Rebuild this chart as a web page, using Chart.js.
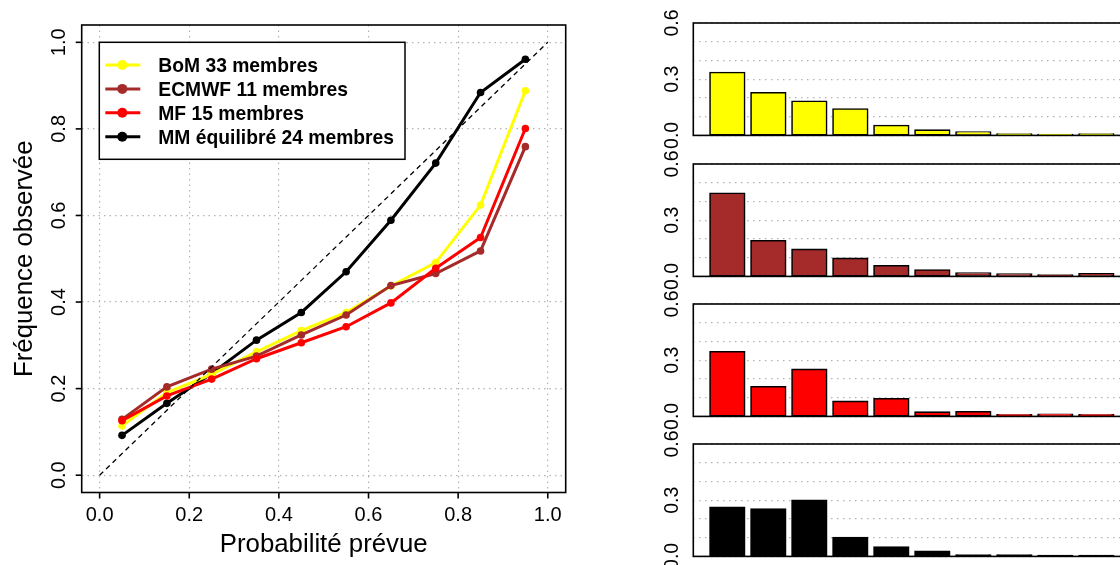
<!DOCTYPE html>
<html>
<head>
<meta charset="utf-8">
<script src="https://cdn.jsdelivr.net/npm/chart.js@4"></script>
<style>
  html, body { margin: 0; padding: 0; background: #fff; overflow: hidden; width: 1120px; height: 565px; }
  canvas { position: absolute; }
</style>
</head>
<body>
<canvas id="reliability" width="600" height="565" style="left:0;top:0"></canvas>
<canvas id="hist0" width="520" height="150"></canvas>
<canvas id="hist1" width="520" height="150"></canvas>
<canvas id="hist2" width="520" height="150"></canvas>
<canvas id="hist3" width="520" height="150"></canvas>
<script>
// forecast probability bins (centres)
const bins = [0.05, 0.15, 0.25, 0.35, 0.45, 0.55, 0.65, 0.75, 0.85, 0.95];

const seriesNames = ['BoM 33 membres', 'ECMWF 11 membres', 'MF 15 membres', 'MM équilibré 24 membres'];
const seriesColors = ['#FFFF00', '#A52A2A', '#FF0000', '#000000'];

// observed frequency per bin
const bomObs   = [0.114, 0.191, 0.233, 0.285, 0.334, 0.376, 0.437, 0.491, 0.624, 0.888];
const ecmwfObs = [0.129, 0.204, 0.245, 0.275, 0.324, 0.370, 0.438, 0.466, 0.518, 0.759];
const mfObs    = [0.126, 0.183, 0.222, 0.269, 0.306, 0.343, 0.398, 0.478, 0.549, 0.801];
const mmObs    = [0.092, 0.166, 0.235, 0.312, 0.376, 0.470, 0.589, 0.721, 0.884, 0.961];

// relative frequency of forecasts in each bin
const bomHist   = [0.336, 0.228, 0.182, 0.141, 0.053, 0.028, 0.018, 0.007, 0.005, 0.007];
const ecmwfHist = [0.444, 0.190, 0.144, 0.096, 0.057, 0.034, 0.018, 0.012, 0.007, 0.014];
const mfHist    = [0.345, 0.158, 0.251, 0.080, 0.094, 0.023, 0.025, 0.009, 0.011, 0.009];
const mmHist    = [0.262, 0.253, 0.299, 0.101, 0.050, 0.027, 0.007, 0.007, 0.005, 0.005];

const probTicks = [0, 0.2, 0.4, 0.6, 0.8, 1.0];
const histTicks = [0, 0.3, 0.6];

const FONT = '"Liberation Sans", Arial, Helvetica, sans-serif';
const GRID = '#b4b4b4';

// R-like box, ticks and labels, drawn from the chart's scales
const rFrame = {
  id: 'rFrame',
  afterDraw(chart, args, o) {
    const ctx = chart.ctx, a = chart.chartArea;
    ctx.save();
    ctx.strokeStyle = '#000';
    ctx.fillStyle = '#000';
    ctx.lineWidth = 1.6;
    ctx.setLineDash([]);
    ctx.strokeRect(a.left, a.top, a.right - a.left, a.bottom - a.top);

    if (o.xTicks) {
      const sx = chart.scales.x;
      ctx.font = o.tickFont;
      ctx.textAlign = 'center';
      ctx.textBaseline = 'alphabetic';
      o.xTicks.forEach(v => {
        const px = sx.getPixelForValue(v);
        ctx.beginPath();
        ctx.moveTo(px, a.bottom);
        ctx.lineTo(px, a.bottom + o.tickLen);
        ctx.stroke();
        ctx.fillText(v.toFixed(1), px, o.xLabelY);
      });
    }
    if (o.yTicks) {
      const sy = chart.scales.y;
      o.yTicks.forEach(v => {
        const py = sy.getPixelForValue(v);
        if (o.tickLen) {
          ctx.beginPath();
          ctx.moveTo(a.left, py);
          ctx.lineTo(a.left - o.tickLen, py);
          ctx.stroke();
        }
        ctx.save();
        ctx.translate(o.yLabelX, py);
        ctx.rotate(-Math.PI / 2);
        ctx.font = o.tickFont;
        ctx.textAlign = 'center';
        ctx.textBaseline = 'alphabetic';
        ctx.fillText(v.toFixed(1), 0, 0);
        ctx.restore();
      });
    }
    if (o.xTitle) {
      ctx.font = o.titleFont;
      ctx.textAlign = 'center';
      ctx.fillText(o.xTitle, (a.left + a.right) / 2, o.xTitleY);
    }
    if (o.yTitle) {
      ctx.save();
      ctx.translate(o.yTitleX, (a.top + a.bottom) / 2);
      ctx.rotate(-Math.PI / 2);
      ctx.font = o.titleFont;
      ctx.textAlign = 'center';
      ctx.fillText(o.yTitle, 0, 0);
      ctx.restore();
    }
    ctx.restore();
  }
};

// boxed legend in the top left corner, like R's legend()
const rLegend = {
  id: 'rLegend',
  afterDraw(chart, args, o) {
    if (!o.names) return;
    const ctx = chart.ctx;
    ctx.save();
    ctx.fillStyle = '#fff';
    ctx.fillRect(o.x, o.y, o.w, o.h);
    ctx.strokeStyle = '#000';
    ctx.lineWidth = 1.5;
    ctx.strokeRect(o.x, o.y, o.w, o.h);
    ctx.font = o.font;
    ctx.textAlign = 'left';
    ctx.textBaseline = 'alphabetic';
    o.names.forEach((name, i) => {
      const cy = o.y + o.firstRow + i * o.rowStep;
      ctx.strokeStyle = o.colors[i];
      ctx.lineWidth = 3;
      ctx.beginPath();
      ctx.moveTo(o.x + 6, cy);
      ctx.lineTo(o.x + 41, cy);
      ctx.stroke();
      ctx.fillStyle = o.colors[i];
      ctx.beginPath();
      ctx.arc(o.x + 23, cy, 5, 0, Math.PI * 2);
      ctx.fill();
      ctx.fillStyle = '#000';
      ctx.fillText(name, o.x + 59, cy + 6.8);
    });
    ctx.restore();
  }
};

const zeroW = s => { s.width = 0; };
const zeroH = s => { s.height = 0; };

const obsSeries = [bomObs, ecmwfObs, mfObs, mmObs];
const drawOrder = [3, 2, 1, 4]; // red on top, black underneath

const lineSets = obsSeries.map((vals, k) => ({
  label: seriesNames[k],
  data: bins.map((b, i) => ({ x: b, y: vals[i] })),
  borderColor: seriesColors[k],
  backgroundColor: seriesColors[k],
  pointBackgroundColor: seriesColors[k],
  borderWidth: 3,
  pointRadius: 3.8,
  pointBorderWidth: 0,
  pointHoverRadius: 3.8,
  tension: 0,
  order: drawOrder[k]
}));

lineSets.push({
  label: 'diag',
  data: [{ x: 0, y: 0 }, { x: 1, y: 1 }],
  borderColor: '#000',
  borderWidth: 1.3,
  borderDash: [5, 4],
  pointRadius: 0,
  order: 0
});

const dotted = { dash: [1.5, 4], display: false };

new Chart(document.getElementById('reliability'), {
  type: 'line',
  data: { datasets: lineSets },
  options: {
    responsive: false,
    animation: false,
    layout: { padding: { left: 81.7, right: 34.3, top: 25, bottom: 72.5 } },
    plugins: {
      legend: { display: false },
      tooltip: { enabled: false },
      rFrame: {
        xTicks: probTicks, yTicks: probTicks,
        tickFont: '20px ' + FONT, tickLen: 6,
        xLabelY: 521, yLabelX: 64.5,
        titleFont: '25.8px ' + FONT,
        xTitle: 'Probabilité prévue', xTitleY: 552,
        yTitle: 'Fréquence observée', yTitleX: 31.5
      },
      rLegend: {
        names: seriesNames, colors: seriesColors,
        x: 99.3, y: 42.3, w: 305.7, h: 117,
        firstRow: 22.7, rowStep: 23.9,
        font: 'bold 19.3px ' + FONT
      }
    },
    scales: {
      x: {
        type: 'linear', min: -0.04, max: 1.04,
        ticks: { display: false, stepSize: 0.2, includeBounds: false },
        grid: { color: GRID, lineWidth: 1.2, drawTicks: false },
        border: dotted,
        afterFit: zeroH
      },
      y: {
        type: 'linear', min: -0.04, max: 1.04,
        ticks: { display: false, stepSize: 0.2, includeBounds: false },
        grid: { color: GRID, lineWidth: 1.2, drawTicks: false },
        border: dotted,
        afterFit: zeroW
      }
    }
  },
  plugins: [rFrame, rLegend]
});

const histSeries = [bomHist, ecmwfHist, mfHist, mmHist];

histSeries.forEach((vals, k) => {
  const cv = document.getElementById('hist' + k);
  cv.style.left = '640px';
  cv.style.top = (23.3 + k * 140.33 - 20) + 'px';
  new Chart(cv, {
    type: 'bar',
    data: {
      datasets: [{
        label: seriesNames[k],
        data: bins.map((b, i) => ({ x: b, y: vals[i] })),
        backgroundColor: seriesColors[k],
        borderColor: '#000',
        borderWidth: 1.6,
        borderSkipped: false,
        inflateAmount: 0.8,
        barPercentage: 0.846,
        categoryPercentage: 1
      }]
    },
    options: {
      responsive: false,
      animation: false,
      layout: { padding: { left: 53.3, right: 24.7, top: 20, bottom: 17.6 } },
      plugins: {
        legend: { display: false },
        tooltip: { enabled: false },
        rFrame: {
          yTicks: histTicks, tickFont: '19.5px ' + FONT, tickLen: 0,
          yLabelX: 38
        },
        rLegend: {}
      },
      scales: {
        x: {
          type: 'linear', min: -0.033, max: 1.045, offset: false,
          ticks: { display: false },
          grid: { display: false, offset: false },
          border: { display: false },
          afterFit: zeroH
        },
        y: {
          type: 'linear', min: 0, max: 0.6,
          ticks: { display: false, stepSize: 0.1 },
          grid: { color: GRID, lineWidth: 1.2, drawTicks: false },
          border: { dash: [1.5, 4.5], display: false },
          afterFit: zeroW
        }
      }
    },
    plugins: [rFrame, rLegend]
  });
});
</script>
</body>
</html>
